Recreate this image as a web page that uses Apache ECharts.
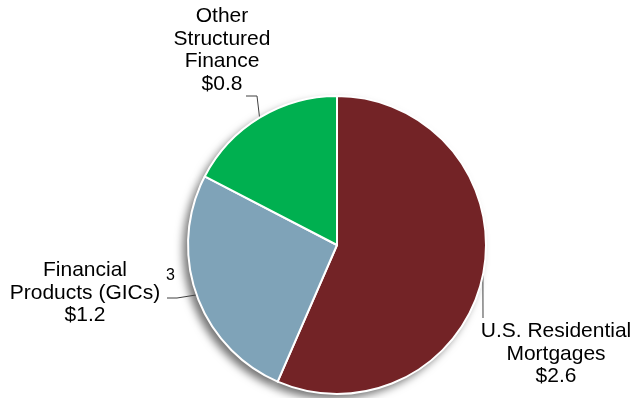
<!DOCTYPE html>
<html>
<head>
<meta charset="utf-8">
<script src="https://cdn.jsdelivr.net/npm/echarts@6/dist/echarts.min.js"></script>
<style>
  html, body { margin: 0; padding: 0; background: #fff; }
  #chart { width: 634px; height: 398px; }
</style>
</head>
<body>
<div id="chart"></div>
<script>
// Exposure by category, $ billions
const categories = ['U.S. Residential\nMortgages', 'Financial\nProducts (GICs)', 'Other\nStructured\nFinance'];
const values = [2.6, 1.2, 0.8];
const valueLabels = ['$2.6', '$1.2', '$0.8'];
const colors = ['#732326', '#7fa3b8', '#00b050'];

// label anchor (top-centre of each text block) and elbow points of the leader lines
const labelSpots = [
  { x: 556, y: 320, elbow: [483, 318], end: [483, 318] },
  { x: 85, y: 259, elbow: [177, 298], end: [167, 298] },
  { x: 222, y: 5, elbow: [257, 96], end: [246, 96] }
];

const pieData = categories.map((name, i) => ({
  name: name,
  value: values[i],
  itemStyle: { color: colors[i] }
}));

const chart = echarts.init(document.getElementById('chart'));
chart.setOption({
  animation: false,
  graphic: [{
    type: 'text',
    left: 166,
    top: 268,
    style: { text: '3', font: '16px "Liberation Sans", Arial, sans-serif', fill: '#000' }
  }],
  series: [
    {
      // soft shadow beneath the pie
      type: 'pie',
      silent: true,
      z: 1,
      center: [337, 245],
      radius: 149,
      startAngle: 90,
      data: values.map(v => ({ value: v })),
      label: { show: false },
      labelLine: { show: false },
      itemStyle: {
        color: '#fff',
        shadowBlur: 9,
        shadowOffsetX: -5,
        shadowOffsetY: 5,
        shadowColor: 'rgba(0,0,0,0.55)'
      }
    },
    {
      type: 'pie',
      z: 2,
      center: [337, 245],
      radius: 149,
      startAngle: 90,
      clockwise: true,
      data: pieData,
      itemStyle: { borderColor: '#fff', borderWidth: 2 },
      label: {
        show: true,
        position: 'outside',
        formatter: p => p.name + '\n' + valueLabels[p.dataIndex],
        fontFamily: '"Liberation Sans", Arial, sans-serif',
        fontSize: 21,
        lineHeight: 22.5,
        color: '#000',
        align: 'center',
        overflow: 'none',
        width: 200
      },
      labelLine: {
        show: true,
        lineStyle: { color: '#404040', width: 1 }
      },
      labelLayout: function (params) {
        const s = labelSpots[params.dataIndex];
        const start = params.labelLinePoints ? params.labelLinePoints[0] : s.elbow;
        return {
          x: s.x,
          y: s.y,
          align: 'center',
          verticalAlign: 'top',
          labelLinePoints: [start, s.elbow, s.end]
        };
      }
    }
  ]
});
</script>
</body>
</html>
